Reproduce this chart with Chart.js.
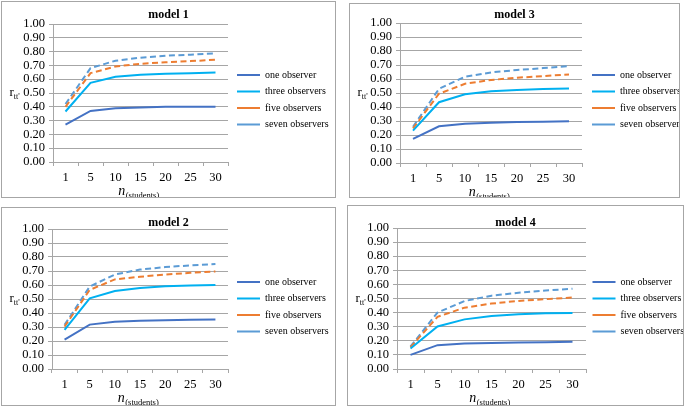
<!DOCTYPE html>
<html><head><meta charset="utf-8">
<script src="https://cdn.jsdelivr.net/npm/chart.js@4.4.1/dist/chart.umd.min.js"></script>
<style>
html,body{margin:0;padding:0;background:#fff;}
body{width:685px;height:406px;position:relative;overflow:hidden;}
.panel{position:absolute;box-sizing:border-box;border:1px solid #a6a6a6;background:#fff;}
.panel canvas{display:block;}
</style></head><body>
<script>
// ---- data ----
const CATEGORIES = ['1','5','10','15','20','25','30'];
const SERIES_NAMES = ['one observer','three observers','five observers','seven observers'];
const Y_MIN = 0, Y_MAX = 1, Y_STEP = 0.1;
const X_TITLE_MAIN = 'n', X_TITLE_SUB = '(students)';
const Y_TITLE_MAIN = 'r', Y_TITLE_SUB = "tt'";

const model1_one   = [0.270, 0.370, 0.390, 0.395, 0.400, 0.400, 0.400];
const model1_three = [0.366, 0.574, 0.617, 0.632, 0.639, 0.644, 0.649];
const model1_five  = [0.400, 0.644, 0.692, 0.712, 0.722, 0.731, 0.741];
const model1_seven = [0.420, 0.680, 0.734, 0.756, 0.770, 0.778, 0.788];

const model2_one   = [0.210, 0.317, 0.337, 0.344, 0.349, 0.351, 0.354];
const model2_three = [0.279, 0.505, 0.557, 0.579, 0.591, 0.596, 0.600];
const model2_five  = [0.303, 0.565, 0.640, 0.659, 0.675, 0.687, 0.697];
const model2_seven = [0.315, 0.589, 0.675, 0.710, 0.728, 0.740, 0.750];

const model3_one   = [0.172, 0.262, 0.281, 0.288, 0.293, 0.295, 0.298];
const model3_three = [0.231, 0.434, 0.491, 0.512, 0.521, 0.528, 0.533];
const model3_five  = [0.247, 0.495, 0.566, 0.593, 0.609, 0.621, 0.633];
const model3_seven = [0.259, 0.530, 0.616, 0.647, 0.664, 0.678, 0.692];

const model4_one   = [0.100, 0.169, 0.180, 0.185, 0.188, 0.190, 0.193];
const model4_three = [0.145, 0.302, 0.352, 0.376, 0.388, 0.395, 0.398];
const model4_five  = [0.154, 0.370, 0.435, 0.464, 0.483, 0.495, 0.507];
const model4_seven = [0.160, 0.400, 0.482, 0.520, 0.541, 0.556, 0.570];

// ---- styles / layout ----
const FONT = '"Liberation Serif", "Times New Roman", serif';
const GRID = '#a6a6a6';
const STYLES = [
  {color:'#4472C4', dash:[]},
  {color:'#00B0F0', dash:[]},
  {color:'#ED7D31', dash:[6,3.5]},
  {color:'#5B9BD5', dash:[6,3.5]}
];
const PANELS = [
  {title:'model 1', series:[model1_one,model1_three,model1_five,model1_seven],
   g:{L:1,T:1,R:335,B:197, pl:53,pr:228,pt:24,pb:162, ty:15, legY:75, legX:237}},
  {title:'model 3', series:[model3_one,model3_three,model3_five,model3_seven],
   g:{L:349,T:3,R:679,B:197, pl:400,pr:582,pt:23,pb:163, ty:15, legY:75, legX:592}},
  {title:'model 2', series:[model2_one,model2_three,model2_five,model2_seven],
   g:{L:1,T:207,R:335,B:405, pl:52,pr:228,pt:229,pb:369, ty:223, legY:282, legX:237}},
  {title:'model 4', series:[model4_one,model4_three,model4_five,model4_seven],
   g:{L:347,T:205,R:683,B:405, pl:397,pr:586,pt:228,pb:369, ty:223, legY:282, legX:592}}
];

const axisTitlesPlugin = {
  id: 'axisTitles',
  afterDraw(chart) {
    const ctx = chart.ctx, a = chart.chartArea, xs = chart.scales.x;
    ctx.save();
    ctx.fillStyle = '#000';
    ctx.textAlign = 'left';
    ctx.textBaseline = 'alphabetic';
    // y title
    const cy = (a.top + a.bottom) / 2;
    const rx = 7.5;
    ctx.font = '13px ' + FONT;
    ctx.fillText(Y_TITLE_MAIN, rx, cy + 3);
    const rw = ctx.measureText(Y_TITLE_MAIN).width;
    ctx.font = '8px ' + FONT;
    ctx.fillText(Y_TITLE_SUB, rx + rw, cy + 6);
    // x title
    ctx.font = 'italic 14px ' + FONT;
    const nW = ctx.measureText(X_TITLE_MAIN).width;
    ctx.font = '8.5px ' + FONT;
    const sW = ctx.measureText(X_TITLE_SUB).width;
    const cx = (xs.left + xs.right) / 2 - 2;
    const x0 = cx - (nW + sW) / 2;
    const by = a.bottom + 33;
    ctx.font = 'italic 14px ' + FONT;
    ctx.fillText(X_TITLE_MAIN, x0, by);
    ctx.font = '8.5px ' + FONT;
    ctx.fillText(X_TITLE_SUB, x0 + nW + 0.5, by + 3);
    ctx.restore();
  }
};

function makePanel(p) {
  const g = p.g;
  const div = document.createElement('div');
  div.className = 'panel';
  div.style.left = g.L + 'px'; div.style.top = g.T + 'px';
  div.style.width = (g.R - g.L + 1) + 'px'; div.style.height = (g.B - g.T + 1) + 'px';
  const cw = g.R - g.L - 1, ch = g.B - g.T - 1, ox = g.L + 1, oy = g.T + 1;
  const canvas = document.createElement('canvas');
  canvas.width = cw; canvas.height = ch;
  canvas.style.width = cw + 'px'; canvas.style.height = ch + 'px';
  div.appendChild(canvas);
  document.body.appendChild(div);

  const a = {l:g.pl-ox, r:g.pr-ox, t:g.pt-oy, b:g.pb-oy};
  const LF = 10, LP = 6.5;
  const colH = 4 * (LF + LP);
  const yStart = (g.legY - oy) - LF / 2;
  const d = 2 * yStart - LP - ch + colH;
  const padTop = Math.max(0, d), padBottom = Math.max(0, -d);
  const TFS = 12, TLH = 1;
  const tc = g.ty - oy;
  const tp = tc - TFS * TLH / 2 - padTop;
  const tb = a.t - padTop - tp - TFS * TLH;
  const gap = (g.legX - ox) - a.r;
  const dummyW = Math.max(0, gap - LP);
  const legW = cw - a.r - dummyW;
  const xH = ch - padBottom - a.b;
  const TICK = 12.5;

  new Chart(canvas, {
    type: 'line',
    data: {
      labels: CATEGORIES,
      datasets: p.series.map((vals, k) => ({
        label: SERIES_NAMES[k], data: vals,
        borderColor: STYLES[k].color, backgroundColor: STYLES[k].color,
        borderWidth: 2, borderDash: STYLES[k].dash,
        pointRadius: 0, pointHoverRadius: 0, tension: 0, fill: false,
        xAxisID: 'x', yAxisID: 'y'
      }))
    },
    options: {
      responsive: false, animation: false, devicePixelRatio: 1,
      events: [],
      layout: {padding: {top: padTop, bottom: padBottom, left: 0, right: 0}},
      plugins: {
        title: {display: true, text: p.title, color: '#000',
          font: {family: FONT, size: TFS, weight: 'bold', lineHeight: TLH},
          padding: {top: tp, bottom: tb}},
        legend: {display: true, position: 'right', align: 'center', maxWidth: legW,
          labels: {usePointStyle: true, pointStyle: 'line', pointStyleWidth: 23,
            boxHeight: LF, padding: LP, color: '#000', font: {family: FONT, size: LF}}},
        tooltip: {enabled: false}
      },
      scales: {
        x: {type: 'category', offset: true,
          grid: {display: true, drawOnChartArea: false, drawTicks: true, tickLength: 4, offset: true, color: GRID},
          border: {display: true, color: GRID, width: 1},
          ticks: {color: '#000', font: {family: FONT, size: TICK}, padding: 4, maxRotation: 0, autoSkip: false},
          afterFit: s => { s.height = xH; }},
        y: {min: Y_MIN, max: Y_MAX,
          ticks: {stepSize: Y_STEP, autoSkip: false, color: '#000', font: {family: FONT, size: TICK}, padding: 4,
            callback: v => Number(v).toFixed(2)},
          grid: {color: GRID, tickLength: 4, drawTicks: true},
          border: {display: true, color: GRID, width: 1},
          afterFit: s => { s.width = a.l; }},
        yR: {position: 'right', display: true,
          grid: {display: false}, border: {display: false}, ticks: {display: false},
          afterFit: s => { s.width = dummyW; }}
      }
    },
    plugins: [axisTitlesPlugin]
  });
}

PANELS.forEach(makePanel);
</script>
</body></html>
